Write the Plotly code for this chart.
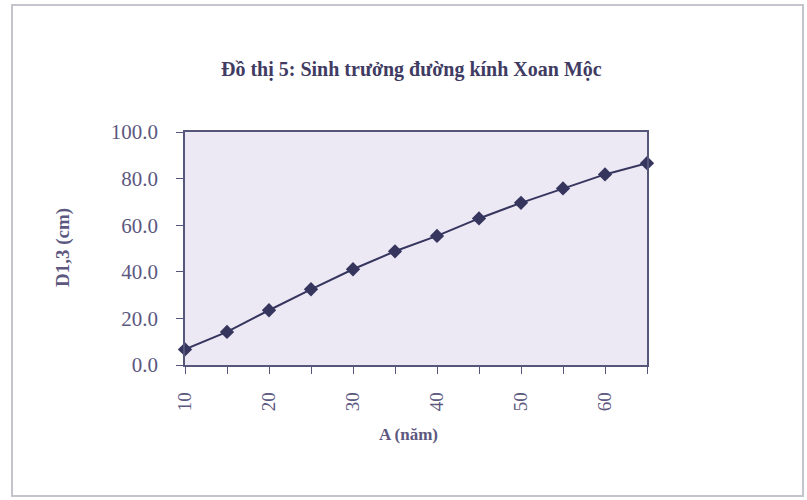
import plotly.graph_objects as go

# Data
age_years = [10, 15, 20, 25, 30, 35, 40, 45, 50, 55, 60, 65]
diameter_cm = [6.7, 14.2, 23.5, 32.5, 41.1, 48.8, 55.4, 62.9, 69.6, 75.8, 81.8, 86.6]
x_tick_vals = [10, 20, 30, 40, 50, 60]
y_tick_vals = [0, 20, 40, 60, 80, 100]

title_text = "Đồ thị 5: Sinh trưởng đường kính Xoan Mộc"
x_title = "A (năm)"
y_title = "D1,3 (cm)"

text_col = "#5c5880"
axis_col = "#56557a"
line_col = "#36355e"
serif = "Liberation Serif, Times New Roman, serif"

L, R, T, B = 185, 160, 132, 135
W, H = 807, 500
pw, ph = W - L - R, H - T - B

def px_x(x):
    return (x - L) / pw

def px_y(y):
    return (H - B - y) / ph

fig = go.Figure()
fig.add_trace(go.Scatter(
    x=age_years, y=diameter_cm, mode="lines+markers",
    line=dict(color=line_col, width=2),
    marker=dict(symbol="diamond", size=11, color=line_col),
    cliponaxis=False, showlegend=False,
))

fig.update_layout(
    width=W, height=H,
    margin=dict(l=L, r=R, t=T, b=B),
    paper_bgcolor="white",
    plot_bgcolor="#ece9f5",
    font=dict(family=serif, color=text_col),
    xaxis=dict(
        range=[10, 65], tickmode="array", tickvals=x_tick_vals,
        ticktext=[str(v) for v in x_tick_vals],
        tickangle=-90, tickfont=dict(size=19, color=text_col),
        ticks="outside", ticklen=7, tickcolor=axis_col, tickwidth=1,
        minor=dict(dtick=5, tick0=10, ticks="outside", ticklen=7, tickcolor=axis_col),
        showgrid=False, zeroline=False,
        showline=True, linecolor=axis_col, linewidth=1.5, mirror=True,
        ticklabelstandoff=11,
    ),
    yaxis=dict(
        range=[0, 100], tickmode="array", tickvals=y_tick_vals,
        ticktext=[f"{v:.1f}" for v in y_tick_vals],
        tickfont=dict(size=21, color=text_col),
        ticks="outside", ticklen=7, tickcolor=axis_col, tickwidth=1,
        showgrid=False, zeroline=False,
        showline=True, linecolor=axis_col, linewidth=1.5, mirror=True,
        ticklabelstandoff=14,
    ),
    annotations=[
        dict(text=f"<b>{title_text}</b>", xref="paper", yref="paper",
             x=px_x(411), y=px_y(56), showarrow=False,
             font=dict(size=20, color="#3f3b62", family=serif)),
        dict(text=f"<b>{x_title}</b>", xref="paper", yref="paper",
             x=px_x(408), y=px_y(446), showarrow=False,
             font=dict(size=17, color=text_col, family=serif)),
        dict(text=f"<b>{y_title}</b>", xref="paper", yref="paper",
             x=px_x(50), y=px_y(248), showarrow=False, textangle=-90,
             font=dict(size=19, color=text_col, family=serif)),
    ],
    shapes=[
        dict(type="rect", xref="paper", yref="paper",
             x0=px_x(12), x1=px_x(803), y0=px_y(496), y1=px_y(5),
             line=dict(color="#c4c4cc", width=2), layer="below"),
    ],
)

fig.write_html("out.html")
